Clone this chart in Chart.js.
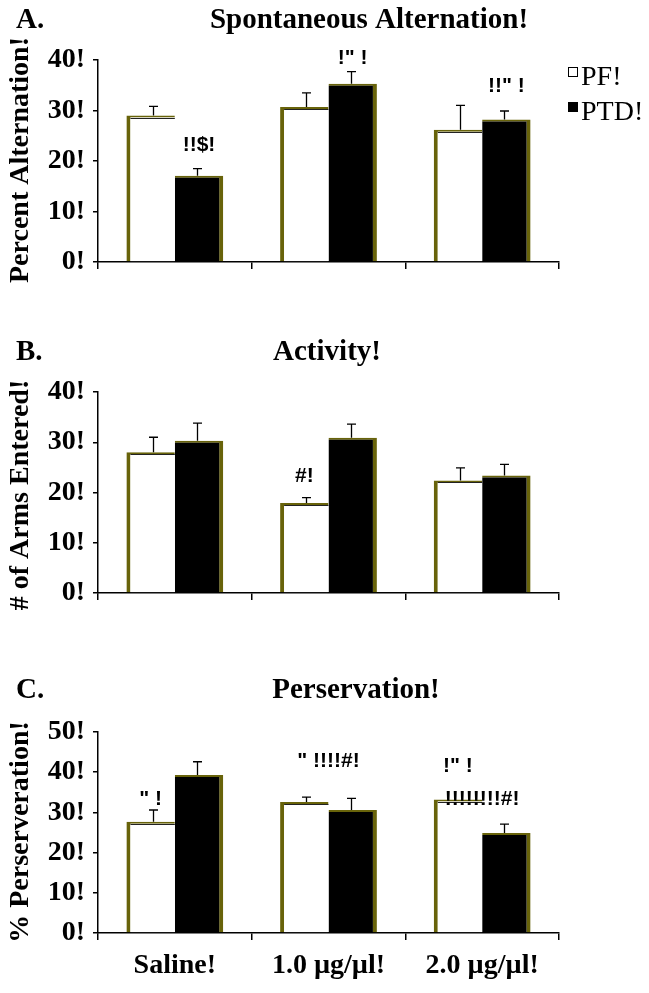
<!DOCTYPE html>
<html>
<head>
<meta charset="utf-8">
<script src="https://cdn.jsdelivr.net/npm/chart.js@4.4.0/dist/chart.umd.min.js"></script>
<style>
  html, body { margin: 0; padding: 0; background: #fff; }
  #wrap { position: relative; width: 649px; height: 993px; }
  .panel { position: absolute; left: 0; width: 649px; }
</style>
</head>
<body>
<div id="wrap">
  <div class="panel" style="top:0"><canvas id="chartA" width="649" height="300"></canvas></div>
  <div class="panel" style="top:300px"><canvas id="chartB" width="649" height="320"></canvas></div>
  <div class="panel" style="top:620px"><canvas id="chartC" width="649" height="373"></canvas></div>
</div>
<script>
// categories and series
const groups = ["Saline!", "1.0 µg/µl!", "2.0 µg/µl!"];
const seriesNames = ["PF!", "PTD!"];

// A. Spontaneous alternation
const altPF = [29.0, 30.7, 26.2];
const altPFerr = [1.8, 2.8, 4.8];
const altPTD = [17.1, 35.3, 28.2];
const altPTDerr = [1.4, 2.4, 1.7];
const altTicks = [0, 10, 20, 30, 40];
const altMarkText = ["!!$!", "!\" !", "!!\" !"];
const altMarkGroup = [0, 1, 2];
const altMarkSeries = [1, 1, 1];
const altMarkLevel = [23.1, 40.3, 34.9];

// B. Activity
const armsPF = [28.0, 17.9, 22.4];
const armsPFerr = [3.0, 1.1, 2.5];
const armsPTD = [30.3, 30.9, 23.4];
const armsPTDerr = [3.5, 2.7, 2.2];
const armsTicks = [0, 10, 20, 30, 40];
const armsMarkText = ["#!"];
const armsMarkGroup = [1];
const armsMarkSeries = [0];
const armsMarkLevel = [23.2];

// C. Perservation
const persPF = [27.7, 32.6, 33.2];
const persPFerr = [2.9, 1.2, 0];
const persPTD = [39.3, 30.6, 24.9];
const persPTDerr = [3.3, 2.9, 2.2];
const persTicks = [0, 10, 20, 30, 40, 50];
const persMarkText = ["\" !", "\" !!!!#!", "!\" !", "!!!!!!!!#!"];
const persMarkGroup = [0, 1, 2, 2];
const persMarkSeries = [0, -1, 0, -1];
const persMarkLevel = [33.2, 42.8, 41.4, 33.2];

const OLIVE = "#68630a";
const SERIF = "'Liberation Serif', 'Times New Roman', serif";
const SANS = "'Liberation Sans Narrow', 'Liberation Sans', Arial, sans-serif";

function makePanel(id, p) {
  const ctx = document.getElementById(id);

  // draws error bars, significance marks, titles and legend
  const decor = {
    id: "decor" + id,
    afterDatasetsDraw(chart) {
      const c = chart.ctx;
      const yScale = chart.scales.y;
      const xScale = chart.scales.x;
      const errs = [p.errPF, p.errPTD];
      const vals = [p.pf, p.ptd];

      c.save();
      // thin dark edge on top of the white bars
      c.strokeStyle = "#222";
      c.lineWidth = 1;
      chart.getDatasetMeta(0).data.forEach((bar) => {
        const left = bar.x - bar.width / 2 + 4;
        const right = bar.x + bar.width / 2;
        const y = Math.round(bar.y + 2) + 0.5;
        c.beginPath();
        c.moveTo(left, y);
        c.lineTo(right, y);
        c.stroke();
      });

      c.strokeStyle = "#000";
      c.lineWidth = 1.3;
      [0, 1].forEach((d) => {
        const meta = chart.getDatasetMeta(d);
        meta.data.forEach((bar, j) => {
          if (!errs[d][j]) return;
          const x = Math.round(bar.x + (d === 0 ? 2 : -2)) + 0.5;
          const yTop = yScale.getPixelForValue(vals[d][j] + errs[d][j]);
          c.beginPath();
          c.moveTo(x, bar.y);
          c.lineTo(x, yTop);
          c.moveTo(x - 4.5, yTop);
          c.lineTo(x + 4.5, yTop);
          c.stroke();
        });
      });

      // significance marks
      c.fillStyle = "#000";
      c.font = "bold 21px " + SANS;
      c.textAlign = "center";
      c.textBaseline = "middle";
      p.markText.forEach((t, k) => {
        const g = p.markGroup[k];
        const s = p.markSeries[k];
        const x = s >= 0 ? chart.getDatasetMeta(s).data[g].x : xScale.getPixelForValue(g);
        c.fillText(t, x, yScale.getPixelForValue(p.markLevel[k]));
      });

      // panel letter and title
      c.font = "bold 29px " + SERIF;
      c.textAlign = "left";
      c.fillText(p.letter, 16, p.titleY);
      c.textAlign = "center";
      c.fillText(p.title, p.titleX, p.titleY);

      // rotated y title
      c.save();
      c.translate(21, p.yTitleY);
      c.rotate(-Math.PI / 2);
      c.font = "bold 28px " + SERIF;
      c.fillText(p.yTitle, 0, 0);
      c.restore();

      // legend
      if (p.legend) {
        c.font = "28px " + SERIF;
        c.textAlign = "left";
        c.textBaseline = "alphabetic";
        chart.data.datasets.forEach((ds, d) => {
          const top = 67 + d * 35;
          c.fillStyle = ds.backgroundColor;
          c.fillRect(568, top, 10, 10);
          c.strokeStyle = "#000";
          c.lineWidth = 1;
          c.strokeRect(568.5, top + 0.5, 9, 9);
          c.fillStyle = "#000";
          c.fillText(ds.label, 581, top + 18);
        });
      }
      c.restore();
    },
  };

  return new Chart(ctx, {
    type: "bar",
    data: {
      labels: groups,
      datasets: [
        {
          label: seriesNames[0],
          data: p.pf,
          backgroundColor: "#ffffff",
          borderColor: OLIVE,
          borderWidth: { left: 4, top: 2, right: 0, bottom: 0 },
          borderSkipped: false,
          categoryPercentage: 0.63,
          barPercentage: 1.0,
        },
        {
          label: seriesNames[1],
          data: p.ptd,
          backgroundColor: "#000000",
          borderColor: OLIVE,
          borderWidth: { left: 0, top: 2, right: 4, bottom: 0 },
          borderSkipped: false,
          categoryPercentage: 0.63,
          barPercentage: 1.0,
        },
      ],
    },
    options: {
      responsive: false,
      animation: false,
      layout: { padding: { top: p.padTop, right: 90, bottom: 0, left: 0 } },
      plugins: {
        legend: { display: false },
        tooltip: { enabled: false },
      },
      scales: {
        x: {
          afterFit: (s) => { s.height = p.xHeight; },
          border: { display: true, color: "#000", width: 1.5 },
          grid: { drawOnChartArea: false, drawTicks: true, tickLength: 7, color: "#000", lineWidth: 1.5 },
          ticks: {
            display: p.showX,
            color: "#000",
            padding: 9,
            maxRotation: 0,
            font: { family: SERIF, size: 28, weight: "bold" },
          },
        },
        y: {
          min: p.ticks[0],
          max: p.ticks[p.ticks.length - 1],
          afterFit: (s) => { s.width = 98; },
          afterBuildTicks: (s) => { s.ticks = p.ticks.map((v) => ({ value: v })); },
          border: { display: true, color: "#000", width: 1.5 },
          grid: { drawOnChartArea: false, drawTicks: true, tickLength: 5, color: "#000", lineWidth: 1.5 },
          ticks: {
            color: "#000",
            padding: 8,
            font: { family: SERIF, size: 28, weight: "bold" },
            callback: (v) => v + "!",
          },
        },
      },
    },
    plugins: [decor],
  });
}

makePanel("chartA", {
  pf: altPF, ptd: altPTD, errPF: altPFerr, errPTD: altPTDerr, ticks: altTicks,
  markText: altMarkText, markGroup: altMarkGroup, markSeries: altMarkSeries, markLevel: altMarkLevel,
  letter: "A.", title: "Spontaneous Alternation!", titleX: 369, titleY: 21,
  yTitle: "Percent Alternation!", yTitleY: 160,
  padTop: 60, xHeight: 38, showX: false, legend: true,
});

makePanel("chartB", {
  pf: armsPF, ptd: armsPTD, errPF: armsPFerr, errPTD: armsPTDerr, ticks: armsTicks,
  markText: armsMarkText, markGroup: armsMarkGroup, markSeries: armsMarkSeries, markLevel: armsMarkLevel,
  letter: "B.", title: "Activity!", titleX: 327, titleY: 53,
  yTitle: "# of Arms Entered!", yTitleY: 195,
  padTop: 92, xHeight: 27, showX: false, legend: false,
});

makePanel("chartC", {
  pf: persPF, ptd: persPTD, errPF: persPFerr, errPTD: persPTDerr, ticks: persTicks,
  markText: persMarkText, markGroup: persMarkGroup, markSeries: persMarkSeries, markLevel: persMarkLevel,
  letter: "C.", title: "Perservation!", titleX: 356, titleY: 71,
  yTitle: "% Perserveration!", yTitleY: 212,
  padTop: 112, xHeight: 60, showX: true, legend: false,
});
</script>
</body>
</html>
